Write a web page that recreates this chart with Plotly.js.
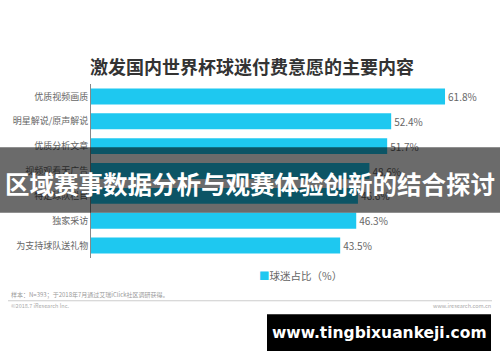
<!DOCTYPE html>
<html><head><meta charset="utf-8">
<script src="https://cdn.plot.ly/plotly-3.0.1.min.js"></script>
<style>html,body{margin:0;padding:0;background:#fff;}#c{width:500px;height:362px;}</style>
</head><body><div id="c"></div>
<script>
const categories = ['优质视频画质','明星解说/原声解说','优质分析文章','视频观看无广告','特定球队栏目','独家采访','为支持球队送礼物'];
const values = [61.8, 52.4, 51.7, 48.6, 46.6, 46.3, 43.5];
const seriesName = '球迷占比（%）';
const chartTitle = '激发国内世界杯球迷付费意愿的主要内容';
const bannerText = '区域赛事数据分析与观赛体验创新的结合探讨';
const watermarkText = 'www.tingbixuankeji.com';
const noteText = '样本：N=393；于2018年7月通过艾瑞iClick社区调研获得。';
const copyText = '©2018.7 iResearch Inc.';
const siteText = 'www.iresearch.com.cn';

const W = 500, H = 362, L = 91, R = 8, T = 83.5, B = 103.5;
const pw = W - L - R, ph = H - T - B;
const px = x => (x - L) / pw;
const py = y => (H - B - y) / ph;
const font = '"Noto Sans CJK SC", "Noto Sans", sans-serif';
const barColor = '#1ec8f0';

const trace = {
  type: 'bar', orientation: 'h',
  y: categories, x: values,
  name: seriesName,
  marker: {color: barColor},
  width: 0.64,
  text: values.map(v => v.toFixed(1) + '%'),
  textposition: 'outside',
  textfont: {size: 10, color: '#666', family: font},
  cliponaxis: false,
  hoverinfo: 'none',
  showlegend: false
};

const layout = {
  width: W, height: H,
  margin: {l: L, r: R, t: T, b: B, pad: 0},
  paper_bgcolor: '#fff', plot_bgcolor: '#fff',
  font: {family: font},
  showlegend: false,
  xaxis: {range: [0, 70], showgrid: false, zeroline: false, showticklabels: false, showline: false, ticks: '', fixedrange: true},
  yaxis: {autorange: 'reversed', showgrid: false, zeroline: false, showline: true, linecolor: '#888', linewidth: 1,
          ticks: '', ticklen: 0, tickfont: {size: 9, color: '#666', family: font}, automargin: false, fixedrange: true},
  shapes: [
    {type: 'line', xref: 'paper', yref: 'paper', x0: px(8), x1: px(492), y0: py(301.5), y1: py(301.5),
     line: {color: '#ccc', width: 1}},
    {type: 'rect', xref: 'paper', yref: 'paper', x0: px(0), x1: px(500), y0: py(213), y1: py(147),
     fillcolor: 'rgba(0,0,0,0.58)', line: {width: 0}, layer: 'above'},
    {type: 'rect', xref: 'paper', yref: 'paper', x0: px(267), x1: px(491), y0: py(352), y1: py(315),
     fillcolor: '#000', line: {width: 0}, layer: 'above'}
  ],
  annotations: [
    {text: '<b>' + chartTitle + '</b>', xref: 'paper', yref: 'paper', x: px(252), y: py(65), xanchor: 'center', yanchor: 'middle',
     showarrow: false, font: {size: 18, color: '#333', family: font}},
    {text: '<span style="color:' + barColor + '">■</span>' + seriesName, xref: 'paper', yref: 'paper', x: px(257), y: py(276), xanchor: 'left', yanchor: 'middle',
     showarrow: false, font: {size: 10.5, color: '#666', family: font}},
    {text: noteText, xref: 'paper', yref: 'paper', x: px(9), y: py(295), xanchor: 'left', yanchor: 'middle',
     showarrow: false, font: {size: 6, color: '#999', family: font}},
    {text: copyText, xref: 'paper', yref: 'paper', x: px(9), y: py(307), xanchor: 'left', yanchor: 'middle',
     showarrow: false, font: {size: 5.5, color: '#aaa', family: font}},
    {text: siteText, xref: 'paper', yref: 'paper', x: px(493), y: py(307), xanchor: 'right', yanchor: 'middle',
     showarrow: false, font: {size: 5.5, color: '#aaa', family: font}},
    {text: '<b>' + bannerText + '</b>', xref: 'paper', yref: 'paper', x: px(250), y: py(184), xanchor: 'center', yanchor: 'middle',
     showarrow: false, font: {size: 24.5, color: '#fff', family: font}},
    {text: '<b>' + watermarkText + '</b>', xref: 'paper', yref: 'paper', x: px(379), y: py(333.5), xanchor: 'center', yanchor: 'middle',
     showarrow: false, font: {size: 15.5, color: '#fff', family: '"DejaVu Sans", sans-serif'}}
  ]
};

Plotly.newPlot('c', [trace], layout, {staticPlot: true, displayModeBar: false});
</script></body></html>
